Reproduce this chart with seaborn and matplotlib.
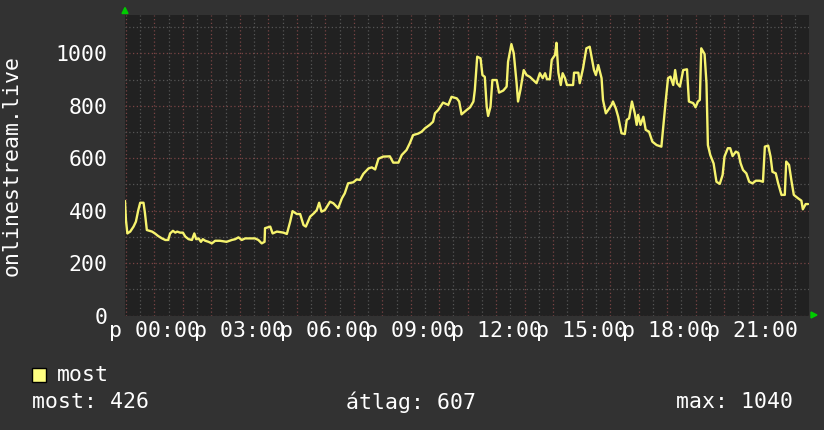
import matplotlib
matplotlib.use("Agg")
import matplotlib.pyplot as plt
from matplotlib.ticker import MultipleLocator, FuncFormatter
from matplotlib.patches import Polygon, Rectangle
import seaborn as sns
import pandas as pd

# ---- data (minutes since midnight, listeners) ----
minutes = [-62, -60, -57, -51, -44, -39, -34, -30, -23, -20, -16, -5, 1, 8, 16, 23, 29, 33, 39, 44,
           48, 54, 60, 65, 72, 79, 84, 88, 93, 98, 102, 107, 114, 121, 128, 138, 152, 163, 170, 177,
           184, 191, 201, 212, 219, 226, 232, 233, 244, 249, 258, 272, 279, 286, 291, 300, 307, 314, 319, 328,
           336, 342, 347, 352, 359, 370, 377, 387, 395, 401, 408, 419, 426, 433, 440, 451, 458, 465, 472, 482,
           496, 503, 514, 521, 531, 538, 545, 556, 563, 570, 580, 587, 591, 598, 608, 619, 626, 637, 642, 647,
           658, 665, 672, 675, 680, 687, 691, 696, 700, 703, 708, 712, 721, 726, 735, 742, 745, 752, 757, 763,
           766, 771, 778, 784, 791, 798, 805, 812, 818, 823, 827, 833, 837, 844, 847, 851, 856, 860, 865, 869,
           882, 884, 893, 896, 903, 910, 917, 926, 930, 935, 942, 945, 951, 956, 963, 966, 972, 977, 984, 991,
           995, 1000, 1006, 1012, 1016, 1019, 1024, 1030, 1035, 1042, 1049, 1058, 1068, 1072, 1077, 1082, 1087, 1093, 1097, 1101,
           1107, 1114, 1122, 1126, 1135, 1140, 1145, 1149, 1152, 1159, 1163, 1166, 1171, 1178, 1184, 1191, 1197, 1201, 1208, 1213,
           1218, 1225, 1230, 1235, 1240, 1247, 1253, 1260, 1267, 1275, 1282, 1286, 1293, 1298, 1302, 1309, 1314, 1321, 1328, 1331,
           1337, 1342, 1347, 1356, 1363, 1366, 1372, 1377]
listeners = [437, 364, 313, 320, 339, 358, 402, 430, 430, 391, 326, 320, 313, 303, 294, 288, 288, 313, 323, 316,
             320, 316, 316, 301, 291, 288, 313, 291, 294, 281, 291, 285, 281, 275, 285, 285, 281, 288, 291, 298,
             288, 294, 294, 294, 288, 275, 281, 333, 339, 313, 320, 316, 311, 358, 398, 387, 387, 345, 339, 377,
             390, 402, 430, 396, 402, 434, 428, 409, 447, 466, 504, 508, 519, 517, 540, 561, 565, 557, 598, 606,
             607, 583, 583, 612, 631, 657, 688, 694, 701, 714, 727, 739, 771, 784, 812, 803, 834, 828, 816, 767,
             784, 794, 816, 860, 987, 981, 917, 910, 796, 761, 796, 898, 898, 850, 858, 873, 968, 1035, 1000, 886,
             816, 860, 936, 917, 910, 898, 886, 924, 905, 924, 901, 901, 975, 994, 1040, 926, 879, 924, 905, 879,
             879, 926, 926, 886, 943, 1019, 1025, 936, 917, 955, 905, 822, 771, 784, 803, 816, 790, 758, 695, 692,
             746, 752, 816, 771, 727, 765, 727, 758, 708, 701, 663, 650, 644, 720, 816, 905, 911, 879, 936, 886,
             873, 936, 939, 816, 810, 794, 816, 822, 1019, 997, 886, 650, 612, 580, 510, 502, 536, 606, 638, 638,
             608, 625, 620, 580, 555, 542, 510, 504, 514, 514, 510, 644, 648, 606, 548, 542, 504, 460, 460, 587,
             574, 514, 460, 447, 438, 405, 425, 425]

series_name = "most"
y_label = "onlinestream.live"
day_prefix = "p"
stat_labels = ["most: 426", "átlag: 607", "max: 1040"]

df = pd.DataFrame({"perc": minutes, "hallgatok": listeners})

# ---- style ----
FIG_BG = "#323232"
AX_BG = "#212121"
LINE = "#f6f36e"
FONT = "DejaVu Sans Mono"
FS = 15.5

sns.set_theme(style="dark")
plt.rcParams["font.family"] = [FONT, "DejaVu Sans"]

W, H = 824, 430
fig = plt.figure(figsize=(W / 100, H / 100), dpi=100, facecolor=FIG_BG)
L, R, T, B = 125, 809, 15, 315.5
ax = fig.add_axes([L / W, 1 - B / H, (R - L) / W, (B - T) / H])
ax.set_facecolor(AX_BG)

sns.lineplot(data=df, x="perc", y="hallgatok", ax=ax, color=LINE, linewidth=1.7,
             estimator=None, zorder=5)

ax.set_xlim(-62, 1379)
ax.set_ylim(0, 1146)

ax.yaxis.set_major_locator(MultipleLocator(200))
ax.yaxis.set_minor_locator(MultipleLocator(100))
ax.xaxis.set_major_locator(MultipleLocator(60))
ax.xaxis.set_minor_locator(MultipleLocator(30))


def xfmt(v, pos):
    m = int(round(v))
    if m % 180 != 0 or m < 0:
        return ""
    return f"{day_prefix} {m // 60:02d}:{m % 60:02d}"


ax.xaxis.set_major_formatter(FuncFormatter(xfmt))
ax.yaxis.set_major_formatter(FuncFormatter(lambda v, p: f"{int(v)}"))

ax.grid(which="minor", color="#555555", linestyle=(0, (1, 2)), linewidth=0.9)
ax.grid(which="major", color="#7a4444", linestyle=(0, (1, 2)), linewidth=0.9)
ax.set_axisbelow(True)

for s in ax.spines.values():
    s.set_visible(False)

ax.tick_params(axis="y", which="both", length=0, pad=12.5, labelcolor="white", labelsize=FS)
ax.tick_params(axis="x", which="both", length=0, pad=4, labelcolor="white", labelsize=FS)
for lab in ax.get_xticklabels() + ax.get_yticklabels():
    lab.set_fontfamily(FONT)

ax.set_xlabel("")
ax.set_ylabel("")

fig.text(12 / W, 1 - 166 / H, y_label, rotation=90, ha="center", va="center",
         color="white", fontsize=FS, family=FONT)

# axis arrows
green = "#00cc00"
fig.add_artist(Polygon([[122 / W, 1 - 13.5 / H], [128 / W, 1 - 13.5 / H], [125 / W, 1 - 7.5 / H]],
                       closed=True, transform=fig.transFigure, color=green))
fig.add_artist(Polygon([[811 / W, 1 - 312 / H], [811 / W, 1 - 318 / H], [817 / W, 1 - 315 / H]],
                       closed=True, transform=fig.transFigure, color=green))

# legend
fig.add_artist(Rectangle((32 / W, 1 - 382 / H), 14 / W, 14 / H, transform=fig.transFigure,
                         facecolor="#ffff80", edgecolor="black", linewidth=1))
fig.text(57 / W, 1 - 375 / H, series_name, ha="left", va="center", color="white",
         fontsize=FS, family=FONT)
fig.text(32 / W, 1 - 402 / H, stat_labels[0], ha="left", va="center", color="white",
         fontsize=FS, family=FONT)
fig.text(346 / W, 1 - 402 / H, stat_labels[1], ha="left", va="center", color="white",
         fontsize=FS, family=FONT)
fig.text(793 / W, 1 - 402 / H, stat_labels[2], ha="right", va="center", color="white",
         fontsize=FS, family=FONT)

fig.savefig("out.png", dpi=100, facecolor=FIG_BG)
